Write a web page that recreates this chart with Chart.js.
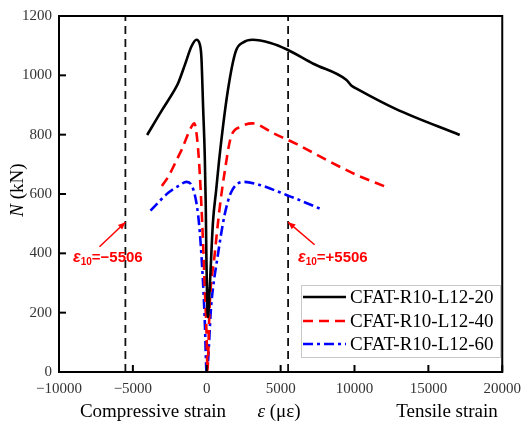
<!DOCTYPE html>
<html>
<head>
<meta charset="utf-8">
<script src="https://cdn.jsdelivr.net/npm/chart.js@4.4.0/dist/chart.umd.min.js"></script>
<style>
  body { margin: 0; background: #fff; }
  canvas { display: block; }
</style>
</head>
<body>
<canvas id="chart" width="529" height="425"></canvas>
<script>
// Series data (strain in microstrain, load in kN)
const seriesNames = ['CFAT-R10-L12-20', 'CFAT-R10-L12-40', 'CFAT-R10-L12-60'];

const strain20 = [-4035, -3100, -2138, -1917, -1470, -1029, -695, -468, -361, -247, -134, -67, -27, 80, 200, 421, 641, 868, 1423, 1957, 2500, 3093, 4315, 5431, 7214, 9439, 9800, 10107, 12779, 17121];
const load20 = [799, 877, 954, 976, 1037, 1098, 1120, 1104, 1060, 894, 728, 562, 396, 185, 283, 505, 615, 728, 947, 1080, 1112, 1120, 1109, 1087, 1039, 985, 965, 956, 887, 799];

const strain40 = [-3033, -2585, -1917, -1697, -1249, -1029, -848, -581, -361, -134, 20, 40, 200, 534, 868, 1202, 1643, 2311, 3093, 4542, 6099, 8103, 10107, 12224];
const load40 = [627, 660, 727, 749, 804, 827, 838, 749, 561, 284, 63, 0, 228, 395, 550, 671, 793, 827, 838, 804, 768, 715, 665, 622];

const strain60 = [-3808, -2585, -1917, -1363, -915, -581, -361, -134, -27, 0, 307, 755, 1202, 1643, 2538, 3427, 4983, 5631, 6099, 7882];
const load60 = [544, 605, 627, 641, 616, 528, 395, 173, 7, 0, 228, 395, 528, 605, 641, 633, 605, 592, 583, 546];

// Strain limits marked by dashed lines
const limitStrain = [-5506, 5506];
const limitLabels = ['=\u22125506', '=+5506'];

const xTicks = [-10000, -5000, 0, 5000, 10000, 15000, 20000];
const yTicks = [0, 200, 400, 600, 800, 1000, 1200];

const colors = ['#000000', '#ff0000', '#0000ff'];
const dashes = [[], [10, 6], [10, 4, 3, 4]];

function toPoints(xs, ys) {
    return xs.map((x, i) => ({ x: x, y: ys[i] }));
}

const curveSets = [
    toPoints(strain20, load20),
    toPoints(strain40, load40),
    toPoints(strain60, load60)
];

const datasets = curveSets.map((pts, i) => ({
    label: seriesNames[i],
    data: pts,
    showLine: true,
    borderColor: colors[i],
    borderWidth: 2.6,
    borderDash: dashes[i],
    pointRadius: 0,
    cubicInterpolationMode: 'monotone',
    fill: false
}));

limitStrain.forEach(s => {
    datasets.push({
        label: 'limit',
        data: [{ x: s, y: 0 }, { x: s, y: 1200 }],
        showLine: true,
        borderColor: '#111',
        borderWidth: 1.8,
        borderDash: [8, 5],
        pointRadius: 0
    });
});

const serif = '"Liberation Serif", "Times New Roman", serif';

// Draws frame, inward ticks, legend, titles and the strain annotations
const decorPlugin = {
    id: 'decor',
    afterDraw(chart) {
        const ctx = chart.ctx;
        const a = chart.chartArea;
        const xs = chart.scales.x;
        const ys = chart.scales.y;
        ctx.save();

        // frame
        ctx.strokeStyle = '#000';
        ctx.lineWidth = 2;
        ctx.setLineDash([]);
        ctx.strokeRect(a.left, a.top, a.right - a.left, a.bottom - a.top);

        // inward ticks
        xTicks.forEach(v => {
            const px = xs.getPixelForValue(v);
            ctx.beginPath();
            ctx.moveTo(px, a.bottom);
            ctx.lineTo(px, a.bottom - 7);
            ctx.stroke();
        });
        yTicks.forEach(v => {
            const py = ys.getPixelForValue(v);
            ctx.beginPath();
            ctx.moveTo(a.left, py);
            ctx.lineTo(a.left + 7, py);
            ctx.stroke();
        });

        // legend
        ctx.fillStyle = '#fff';
        ctx.fillRect(301, 285, 199, 72);
        ctx.strokeStyle = '#c8c8c8';
        ctx.lineWidth = 1;
        ctx.strokeRect(301.5, 285.5, 199, 72);
        const rows = [297, 321, 344];
        ctx.font = '19px ' + serif;
        ctx.textBaseline = 'middle';
        ctx.textAlign = 'left';
        seriesNames.forEach((name, i) => {
            ctx.strokeStyle = colors[i];
            ctx.lineWidth = 2.6;
            ctx.setLineDash(dashes[i]);
            ctx.beginPath();
            ctx.moveTo(303, rows[i]);
            ctx.lineTo(346, rows[i]);
            ctx.stroke();
            ctx.fillStyle = '#000';
            ctx.fillText(name, 350, rows[i] + 1);
        });
        ctx.setLineDash([]);

        // y title
        ctx.save();
        ctx.translate(18, 190);
        ctx.rotate(-Math.PI / 2);
        ctx.fillStyle = '#000';
        ctx.font = 'italic 19px ' + serif;
        const wN = ctx.measureText('N').width;
        ctx.font = '19px ' + serif;
        const wRest = ctx.measureText(' (kN)').width;
        const start = -(wN + wRest) / 2;
        ctx.textAlign = 'left';
        ctx.font = 'italic 19px ' + serif;
        ctx.fillText('N', start, 0);
        ctx.font = '19px ' + serif;
        ctx.fillText(' (kN)', start + wN, 0);
        ctx.restore();

        // x titles
        ctx.fillStyle = '#000';
        ctx.textBaseline = 'alphabetic';
        ctx.font = '19px ' + serif;
        ctx.textAlign = 'center';
        ctx.fillText('Compressive strain', 153, 417);
        ctx.fillText('Tensile strain', 447, 417);
        ctx.font = 'italic 19px ' + serif;
        const wE = ctx.measureText('\u03b5').width;
        ctx.font = '19px ' + serif;
        const wU = ctx.measureText(' (\u03bc\u03b5)').width;
        let x0 = 279 - (wE + wU) / 2;
        ctx.textAlign = 'left';
        ctx.font = 'italic 19px ' + serif;
        ctx.fillText('\u03b5', x0, 417);
        ctx.font = '19px ' + serif;
        ctx.fillText(' (\u03bc\u03b5)', x0 + wE, 417);

        // annotations
        const sans = '"Liberation Sans", Arial, sans-serif';
        const tails = [[-7261, 422], [7301, 429]];
        const textX = [73, 298];
        limitStrain.forEach((s, i) => {
            const tipX = xs.getPixelForValue(s);
            const tipY = ys.getPixelForValue(505);
            const tX = xs.getPixelForValue(tails[i][0]);
            const tY = ys.getPixelForValue(tails[i][1]);
            ctx.strokeStyle = '#ff0000';
            ctx.fillStyle = '#ff0000';
            ctx.lineWidth = 1.5;
            ctx.beginPath();
            ctx.moveTo(tX, tY);
            ctx.lineTo(tipX, tipY);
            ctx.stroke();
            const ang = Math.atan2(tipY - tY, tipX - tX);
            ctx.beginPath();
            ctx.moveTo(tipX, tipY);
            ctx.lineTo(tipX - 8 * Math.cos(ang - 0.4), tipY - 8 * Math.sin(ang - 0.4));
            ctx.lineTo(tipX - 8 * Math.cos(ang + 0.4), tipY - 8 * Math.sin(ang + 0.4));
            ctx.closePath();
            ctx.fill();

            let x = textX[i];
            const base = 262;
            ctx.textAlign = 'left';
            ctx.font = 'italic bold 16px ' + sans;
            ctx.fillText('\u03b5', x, base);
            x += ctx.measureText('\u03b5').width;
            ctx.font = 'bold 10px ' + sans;
            ctx.fillText('10', x, base + 3);
            x += ctx.measureText('10').width;
            ctx.font = 'bold 15px ' + sans;
            ctx.fillText(limitLabels[i], x, base);
        });

        ctx.restore();
    }
};

new Chart(document.getElementById('chart').getContext('2d'), {
    type: 'scatter',
    data: { datasets: datasets },
    options: {
        responsive: false,
        animation: false,
        devicePixelRatio: 1,
        layout: { padding: { left: 0, right: 21, top: 11, bottom: 0 } },
        plugins: {
            legend: { display: false },
            tooltip: { enabled: false }
        },
        scales: {
            x: {
                type: 'linear',
                min: -10000,
                max: 20000,
                afterBuildTicks: s => { s.ticks = xTicks.map(v => ({ value: v })); },
                ticks: {
                    font: { family: serif, size: 15 },
                    color: '#333',
                    padding: 8,
                    maxRotation: 0,
                    callback: v => (v < 0 ? '\u2212' + Math.abs(v) : String(v))
                },
                grid: { display: false, drawTicks: false },
                border: { display: false },
                afterFit: s => { s.height = 53; }
            },
            y: {
                type: 'linear',
                min: 0,
                max: 1200,
                afterBuildTicks: s => { s.ticks = yTicks.map(v => ({ value: v })); },
                ticks: {
                    font: { family: serif, size: 15 },
                    color: '#333',
                    padding: 7,
                    callback: v => String(v)
                },
                grid: { display: false, drawTicks: false },
                border: { display: false },
                afterFit: s => { s.width = 59; }
            }
        }
    },
    plugins: [decorPlugin]
});
</script>
</body>
</html>
